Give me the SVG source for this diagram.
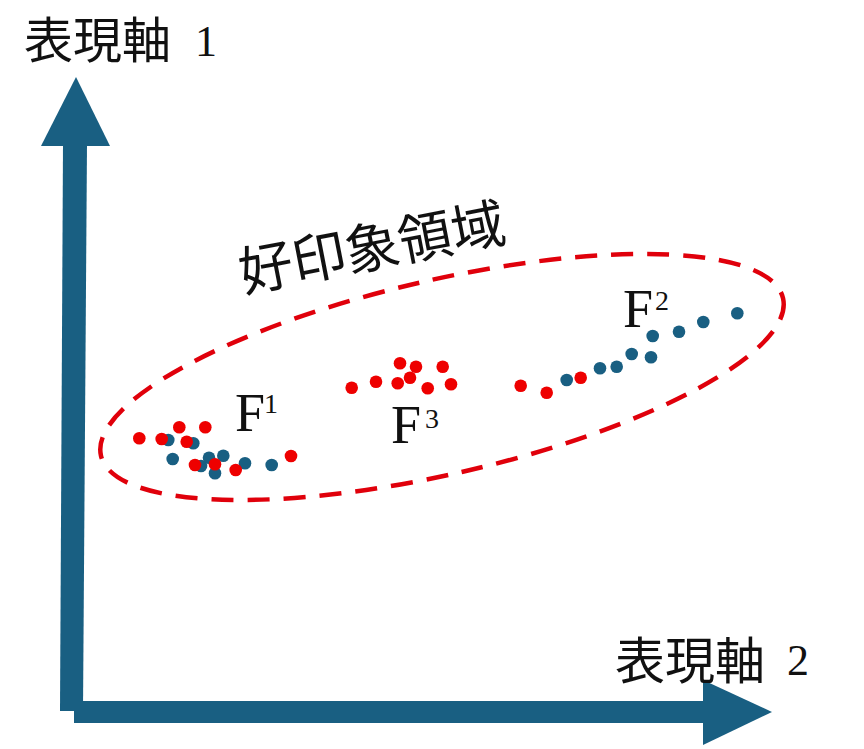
<svg xmlns="http://www.w3.org/2000/svg" width="864" height="749" viewBox="0 0 864 749">
<style>
.ax{fill:#195f82}
.cjk{font-family:"Noto Sans CJK JP","Noto Sans CJK SC",sans-serif;fill:#111}
.lat{font-family:"Liberation Serif","Times New Roman",serif;fill:#111}
.f{font-family:"Liberation Serif","Times New Roman",serif;font-size:54px;fill:#111}
.sup{font-size:28px}
.b{fill:#195f82}
.r{fill:#ee0000}
.region{fill:none;stroke:#e0000b;stroke-width:4.5;stroke-dasharray:22 14}
</style>
<rect width="864" height="749" fill="#fff"/>
<g id="connectors">
  <g id="axis1">
    <polygon class="ax" points="63,144 87,144 83,711 60,711"/>
    <polygon class="ax" points="76,77 110,146 41,146"/>
  </g>
  <g id="axis2">
    <rect class="ax" x="74" y="701" width="630" height="22"/>
    <polygon class="ax" points="703,680 772,712 703,745"/>
  </g>
</g>
<g id="label-axis1">
  <text class="cjk" x="24" y="58" font-size="49">表現軸<tspan class="lat" x="184" y="56" font-size="44"> 1</tspan></text>
</g>
<g id="label-axis2">
  <text class="cjk" x="615" y="679" font-size="50">表現軸<tspan class="lat" x="776" y="675" font-size="44"> 2</tspan></text>
</g>
<g id="region">
  <ellipse class="region" cx="442" cy="377" rx="350" ry="97" transform="rotate(-13 442 377)"/>
  <text class="cjk" x="372" y="267" font-size="54" text-anchor="middle" transform="rotate(-11 372 247)">好印象領域</text>
</g>
<g id="F1">
  <g class="b">
    <circle cx="168.3" cy="440" r="6.3"/><circle cx="193.3" cy="443.3" r="6.3"/><circle cx="172.7" cy="459" r="6.3"/>
    <circle cx="201" cy="466" r="6.3"/><circle cx="209" cy="457.7" r="6.3"/><circle cx="223.3" cy="455.7" r="6.3"/>
    <circle cx="215" cy="473.3" r="6.3"/><circle cx="245" cy="463.3" r="6.3"/><circle cx="271.7" cy="465" r="6.3"/>
  </g>
  <g class="r">
    <circle cx="139.3" cy="438.3" r="6.3"/><circle cx="161.7" cy="439" r="6.3"/><circle cx="179.3" cy="427.3" r="6.3"/>
    <circle cx="205.3" cy="427.3" r="6.3"/><circle cx="186.7" cy="441.7" r="6.3"/><circle cx="195" cy="465" r="6.3"/>
    <circle cx="215" cy="464.3" r="6.3"/><circle cx="235.7" cy="470" r="6.3"/><circle cx="291" cy="456" r="6.3"/>
  </g>
  <text class="f" x="235" y="431">F<tspan class="sup" x="264" y="413">1</tspan></text>
</g>
<g id="F3">
  <g class="r">
    <circle cx="351.7" cy="387.7" r="6.3"/><circle cx="376" cy="381.7" r="6.3"/><circle cx="400" cy="363.3" r="6.3"/>
    <circle cx="416" cy="366.7" r="6.3"/><circle cx="410" cy="377.7" r="6.3"/><circle cx="397.7" cy="383.3" r="6.3"/>
    <circle cx="442.7" cy="366.7" r="6.3"/><circle cx="427.7" cy="388.3" r="6.3"/><circle cx="451" cy="384.3" r="6.3"/>
  </g>
  <text class="f" x="391" y="443">F<tspan class="sup" x="425" y="428">3</tspan></text>
</g>
<g id="F2">
  <g class="b">
    <circle cx="566.7" cy="380" r="6.3"/><circle cx="600" cy="368.3" r="6.3"/><circle cx="616.7" cy="366.7" r="6.3"/>
    <circle cx="631.7" cy="354" r="6.3"/><circle cx="651" cy="357.3" r="6.3"/><circle cx="652.7" cy="336" r="6.3"/>
    <circle cx="679" cy="331.7" r="6.3"/><circle cx="703.3" cy="322" r="6.3"/><circle cx="737.3" cy="313.3" r="6.3"/>
  </g>
  <g class="r">
    <circle cx="520.7" cy="385.7" r="6.3"/><circle cx="546.7" cy="392.7" r="6.3"/><circle cx="580.7" cy="377.7" r="6.3"/>
  </g>
  <text class="f" x="623" y="327">F<tspan class="sup" x="655" y="310">2</tspan></text>
</g>
</svg>
